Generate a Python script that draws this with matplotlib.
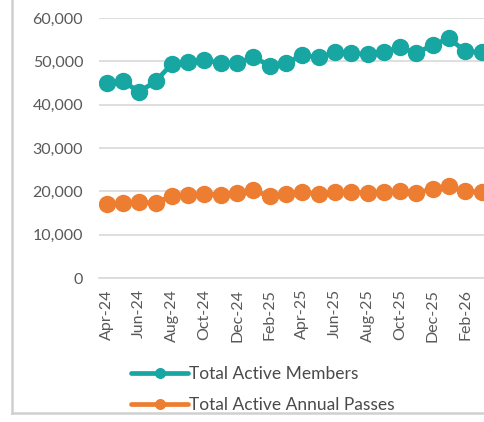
import matplotlib
matplotlib.use("Agg")
import matplotlib.pyplot as plt
from matplotlib.lines import Line2D
from matplotlib.ticker import FuncFormatter

months = ["Apr-24", "May-24", "Jun-24", "Jul-24", "Aug-24", "Sep-24", "Oct-24", "Nov-24",
          "Dec-24", "Jan-25", "Feb-25", "Mar-25", "Apr-25", "May-25", "Jun-25", "Jul-25",
          "Aug-25", "Sep-25", "Oct-25", "Nov-25", "Dec-25", "Jan-26", "Feb-26", "Mar-26"]
members = [44900, 45400, 42950, 45400, 49400, 49800, 50300, 49600,
           49600, 51000, 49000, 49600, 51450, 50900, 52050, 51900,
           51700, 52200, 53200, 51900, 53800, 55300, 52300, 52050]
passes = [17170, 17330, 17470, 17330, 19000, 19240, 19400, 19240,
          19630, 20230, 18850, 19400, 19770, 19400, 19860, 19860,
          19630, 19860, 20000, 19630, 20550, 21150, 20000, 19860]

teal = "#17A6A1"
orange = "#ED7D31"
grey_txt = "#595959"

plt.rcParams['font.family'] = ['Lato', 'DejaVu Sans']

fig = plt.figure(figsize=(4.84, 4.22), dpi=100)
W, H = 484, 422
# axes placed in pixel terms, right side runs past the image edge (cropped screenshot)
left, right, top, bottom = 98.5, 489.8, 18, 278
ax = fig.add_axes([left / W, 1 - bottom / H, (right - left) / W, (bottom - top) / H])

x = list(range(len(months)))
ax.plot(x, members, color=teal, lw=3.4, marker="o", ms=11.5, label="Total Active Members",
        solid_capstyle="round")
ax.plot(x, passes, color=orange, lw=3.4, marker="o", ms=11.5, label="Total Active Annual Passes",
        solid_capstyle="round")

ax.set_xlim(-0.5, len(months) - 0.5)
ax.set_ylim(0, 60000)
ax.set_yticks(range(0, 60001, 10000))
ax.yaxis.set_major_formatter(FuncFormatter(lambda v, p: f"{int(v):,}"))
ax.set_xticks(x[::2])
ax.set_xticklabels(months[::2], rotation=90)
ax.tick_params(axis="both", length=0, colors=grey_txt, labelsize=11.5)
ax.tick_params(axis="y", pad=11)
ax.tick_params(axis="x", pad=8)
ax.grid(axis="y", color="#d9d9d9", lw=1.2)
ax.set_axisbelow(True)
for s in ["top", "right", "left"]:
    ax.spines[s].set_visible(False)
ax.spines["bottom"].set_color("#d9d9d9")
ax.spines["bottom"].set_linewidth(1.2)

leg = fig.legend(loc="upper left", bbox_to_anchor=(131 / W, 1 - 366 / H), frameon=False,
                 fontsize=12.5, numpoints=1, handlelength=3.3, handletextpad=0.05,
                 labelspacing=0.88, borderpad=0, borderaxespad=0, markerscale=0.6)
for t in leg.get_texts():
    t.set_color("#4a4a4a")

# chart frame edges visible in the crop
fig.add_artist(Line2D([12 / W, 12 / W], [1 - 413 / H, 1.0], color="#d0d0d0", lw=1.8))
fig.add_artist(Line2D([12 / W, 1.0], [1 - 413 / H, 1 - 413 / H], color="#d0d0d0", lw=1.8))

fig.savefig("out.png", dpi=100)
